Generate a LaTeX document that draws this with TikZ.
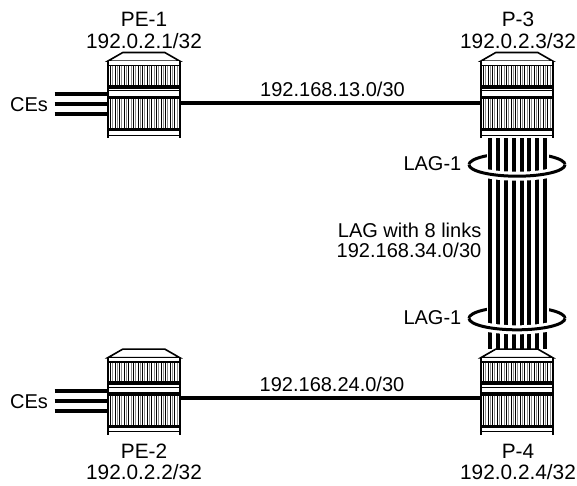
\documentclass[tikz,border=0pt]{standalone}
\usepackage{fontspec}
\setmainfont{Liberation Sans}
\tikzset{
  box/.style={draw=none,rectangle,inner sep=0pt,minimum width=72pt,minimum height=85.5pt},
  lbl/.style={inner sep=0pt,anchor=base,font=\fontsize{20}{22}\selectfont},
  rlbl/.style={inner sep=0pt,anchor=base,font=\fontsize{20.8}{22}\selectfont},
  lblr/.style={inner sep=0pt,anchor=base east,font=\fontsize{20}{22}\selectfont},
  wire/.style={line width=4pt,draw=black},
  cewire/.style={line width=4pt,draw=black},
  lagbar/.style={line width=3.7pt,draw=black},
  hoop/.style={line width=3pt,draw=black},
  halo/.style={line width=9pt,draw=white},
}
\newcommand{\routerbody}[1]{%
  \begin{scope}[shift={(#1.north west)},yshift=-8.6pt]
    \filldraw[fill=white,draw=black,line width=1.6pt] (0,0) -- (15,-8.6) -- (57,-8.6) -- (72,0) -- cycle;
    \fill[white] (0,0) rectangle (72,76.9);
    \foreach \i in {0,...,29}{
      \pgfmathsetmacro{\xx}{2.5+2.3*\i}
      \pgfmathparse{int(mod(\i,2))}
      \ifnum\pgfmathresult=0
        \draw[black,line width=.8pt] (\xx,5) -- (\xx,23.5);
        \draw[black,line width=.8pt] (\xx,38) -- (\xx,67);
      \else
        \draw[black!45,line width=.8pt] (\xx,5) -- (\xx,23.5);
        \draw[black!45,line width=.8pt] (\xx,38) -- (\xx,67);
      \fi
    }
    \draw[line width=1.6pt] (0,0) -- (0,76.9) (72,0) -- (72,76.9);
    \fill (0,3.6) rectangle (72,5);
    \fill (0,23.5) rectangle (72,27.5);
    \fill (0,29) rectangle (72,30);
    \fill (0,34.5) rectangle (72,38);
    \fill (0,67) rectangle (72,70);
    \fill (0,73.5) rectangle (72,74.7);
  \end{scope}
}
\begin{document}
\begin{tikzpicture}[x=1pt,y=-1pt]
\useasboundingbox (0,0) rectangle (577,485);
\node[box] (pe1) at (144,95.45) {};
\node[box] (pe2) at (144,392.05) {};
\node[box] (p3) at (517,95.45) {};
\node[box] (p4) at (517,392.05) {};
% hoops: back halves
\coordinate (hoopAw) at (469,164.7);
\coordinate (hoopAe) at (565,164.7);
\coordinate (hoopBw) at (469,318.3);
\coordinate (hoopBe) at (565,318.3);
\draw[hoop] (hoopAe) arc[start angle=0,end angle=180,x radius=48pt,y radius=11.5pt];
\draw[hoop] (hoopBe) arc[start angle=0,end angle=180,x radius=48pt,y radius=11.5pt];
\fill[white] (486.5,148) rectangle (548.5,165);
\fill[white] (486.5,302) rectangle (548.5,319);
% LAG bars
\foreach \dx in {-27,-19.3,-11,-3,4.7,12.3,20.3,28}{
  \draw[lagbar] ([xshift=\dx pt]p3.south) -- ([xshift=\dx pt]p4.north);
}
\draw[halo] (hoopAw) arc[start angle=180,end angle=360,x radius=48pt,y radius=11.5pt];
\draw[halo] (hoopBw) arc[start angle=180,end angle=360,x radius=48pt,y radius=11.5pt];
\draw[hoop] (hoopAw) arc[start angle=180,end angle=360,x radius=48pt,y radius=11.5pt];
\draw[hoop] (hoopBw) arc[start angle=180,end angle=360,x radius=48pt,y radius=11.5pt];
% routers
\routerbody{p3}
\routerbody{pe1}
\routerbody{pe2}
\routerbody{p4}
% links
\draw[wire] ([yshift=-7.25pt]pe1.east) -- ([yshift=-7.25pt]p3.west);
\draw[wire] ([yshift=-6pt]pe2.east) -- ([yshift=-6pt]p4.west);
\node[lbl] (l13) at (332.5,96) {192.168.13.0/30};
\node[lbl] (l24) at (332,391.3) {192.168.24.0/30};
% CE stubs
\node[lbl] (ce1) at (29,111) {CEs};
\node[lbl] (ce2) at (29,408) {CEs};
\foreach \dy in {1.15,-8.85,-18.55}{
  \coordinate (a) at ([yshift=\dy pt]pe1.west);
  \coordinate (b) at ([xshift=6.5pt]a -| ce1.east);
  \draw[cewire] (b) -- (a);
}
\foreach \dy in {1,-9,-18.5}{
  \coordinate (a) at ([yshift=\dy pt]pe2.west);
  \coordinate (b) at ([xshift=6.5pt]a -| ce2.east);
  \draw[cewire] (b) -- (a);
}
% labels
\node[rlbl] (n1) at (144,26) {PE-1};
\node[rlbl] (a1) at (144,48.5) {192.0.2.1/32};
\node[rlbl] (n3) at (518,26) {P-3};
\node[rlbl] (a3) at (518,48.5) {192.0.2.3/32};
\node[rlbl] (n2) at (144,458) {PE-2};
\node[rlbl] (a2) at (144,479) {192.0.2.2/32};
\node[rlbl] (n4) at (518,458) {P-4};
\node[rlbl] (a4) at (518,479) {192.0.2.4/32};
\node[lblr] (la) at (461.5,170.7) {LAG-1};
\node[lblr] (lb) at (461.5,324.7) {LAG-1};
\node[lblr] (lc) at (481.5,237.3) {LAG with 8 links};
\node[lblr] (ld) at (481.5,257.3) {192.168.34.0/30};
\end{tikzpicture}
\end{document}
